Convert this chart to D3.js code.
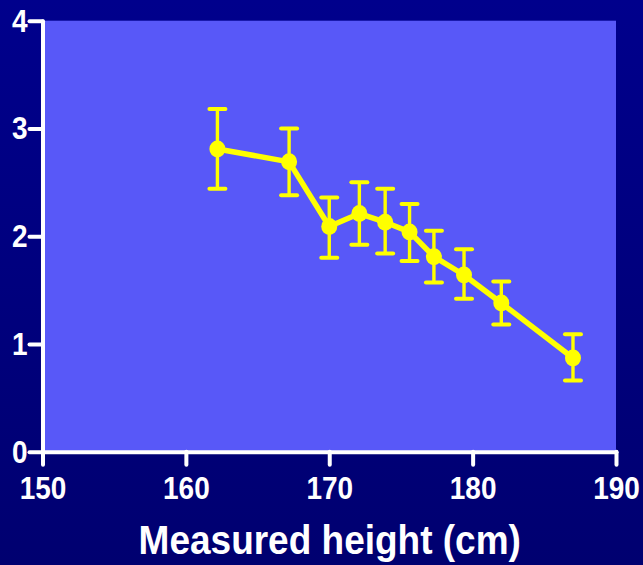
<!DOCTYPE html>
<html>
<head>
<meta charset="utf-8">
<script src="https://cdn.jsdelivr.net/npm/d3@7"></script>
<style>
  html, body { margin: 0; padding: 0; background: #000080; }
  svg { display: block; }
  text { font-family: "Liberation Sans", Arial, sans-serif; font-weight: bold; fill: #ffffff; }
</style>
</head>
<body>
<script>
// Measured height (cm) for each group
const heights = [162.2, 167.2, 170.0, 172.1, 173.9, 175.6, 177.3, 179.4, 182.0, 187.0];
// Mean value per group
const means   = [2.81, 2.69, 2.09, 2.21, 2.13, 2.04, 1.81, 1.64, 1.38, 0.87];
// Upper and lower error limits per group
const upper   = [3.18, 3.00, 2.36, 2.50, 2.44, 2.30, 2.05, 1.88, 1.58, 1.09];
const lower   = [2.44, 2.38, 1.80, 1.92, 1.84, 1.77, 1.57, 1.42, 1.18, 0.66];
// Axis ticks
const xTicks = [150, 160, 170, 180, 190];
const yTicks = [0, 1, 2, 3, 4];
const xTitle = "Measured height (cm)";

const W = 643, H = 565;
const yellow = "#ffff00";

const svg = d3.select("body").append("svg")
  .attr("width", W).attr("height", H);

// dark navy backdrop
const defs = svg.append("defs");
const grad = defs.append("linearGradient").attr("id", "bg")
  .attr("x1", 0).attr("y1", 0).attr("x2", 0).attr("y2", 1);
grad.append("stop").attr("offset", "0%").attr("stop-color", "#00008c");
grad.append("stop").attr("offset", "100%").attr("stop-color", "#000070");
svg.append("rect").attr("width", W).attr("height", H).attr("fill", "url(#bg)");

const x = d3.scaleLinear().domain([150, 190]).range([42.5, 616]);
const y = d3.scaleLinear().domain([0, 4]).range([451.7, 20.7]);

// plot area
svg.append("rect")
  .attr("x", x(150)).attr("y", y(4))
  .attr("width", x(190) - x(150)).attr("height", y(0) - y(4))
  .attr("fill", "#5858f8");

// axes
const xAxis = svg.append("g")
  .attr("transform", `translate(0,${y(0)})`)
  .call(d3.axisBottom(x).tickValues(xTicks).tickSize(13).tickSizeOuter(0).tickFormat(d3.format("d")));
const yAxis = svg.append("g")
  .attr("transform", `translate(${x(150)},0)`)
  .call(d3.axisLeft(y).tickValues(yTicks).tickSize(13).tickSizeOuter(0).tickFormat(d3.format("d")));

[xAxis, yAxis].forEach(g => {
  g.selectAll("path.domain, line")
    .attr("stroke", "#ffffff").attr("stroke-width", 4)
    .attr("stroke-linecap", "round").attr("fill", "none");
});

xAxis.selectAll("text")
  .attr("y", 0).attr("dy", null)
  .attr("text-anchor", "middle")
  .attr("font-size", 28)
  .attr("transform", "translate(0,47) scale(1,1.1)");
yAxis.selectAll("text")
  .attr("x", 0).attr("dy", null)
  .attr("text-anchor", "end")
  .attr("font-size", 28)
  .attr("transform", "translate(-15,10.5) scale(1,1.1)");

// axis title
svg.append("text")
  .attr("text-anchor", "middle")
  .attr("font-size", 37)
  .attr("transform", `translate(${(x(150) + x(190)) / 2 + 0.5},554) scale(1,1.09)`)
  .text(xTitle);

// data
const data = heights.map((h, i) => ({ h, m: means[i], hi: upper[i], lo: lower[i] }));

// error bars
const eb = svg.append("g").attr("stroke", yellow).attr("stroke-linecap", "round");
eb.selectAll("line.stem").data(data).join("line").attr("class", "stem")
  .attr("x1", d => x(d.h)).attr("x2", d => x(d.h))
  .attr("y1", d => y(d.hi)).attr("y2", d => y(d.lo))
  .attr("stroke-width", 3.4).attr("stroke-linecap", "butt");
eb.selectAll("line.capTop").data(data).join("line").attr("class", "capTop")
  .attr("x1", d => x(d.h) - 8).attr("x2", d => x(d.h) + 8)
  .attr("y1", d => y(d.hi)).attr("y2", d => y(d.hi))
  .attr("stroke-width", 4);
eb.selectAll("line.capBot").data(data).join("line").attr("class", "capBot")
  .attr("x1", d => x(d.h) - 8).attr("x2", d => x(d.h) + 8)
  .attr("y1", d => y(d.lo)).attr("y2", d => y(d.lo))
  .attr("stroke-width", 4);

// connecting line
svg.append("path").datum(data)
  .attr("fill", "none").attr("stroke", yellow).attr("stroke-width", 5.5)
  .attr("stroke-linejoin", "round")
  .attr("d", d3.line().x(d => x(d.h)).y(d => y(d.m)));

// markers
svg.append("g").selectAll("ellipse").data(data).join("ellipse")
  .attr("cx", d => x(d.h)).attr("cy", d => y(d.m))
  .attr("rx", 8).attr("ry", 8.5)
  .attr("fill", yellow);
</script>
</body>
</html>
